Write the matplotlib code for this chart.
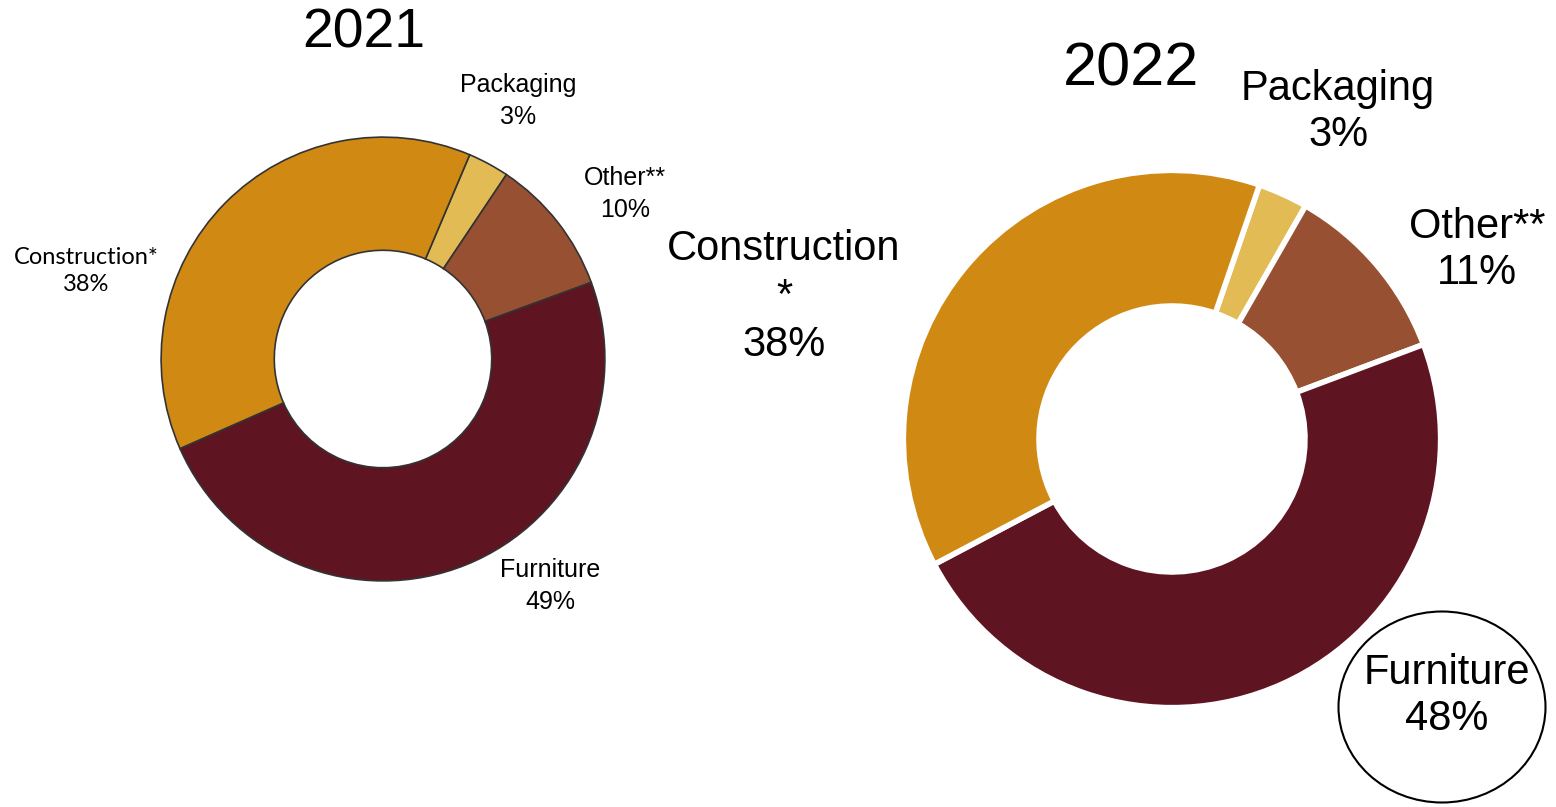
import matplotlib.pyplot as plt
from matplotlib.patches import Ellipse

# data
cats = ['Packaging', 'Other**', 'Furniture', 'Construction*']
vals_2021 = [3, 10, 49, 38]
vals_2022 = [3, 11, 48, 38]
colors = ['#E2BB55', '#985033', '#5E1421', '#D08A13']

W, H = 1556, 807
fig = plt.figure(figsize=(W / 100, H / 100), dpi=100)


def px_axes(cx, cy, r):
    # axes in pixel coords (top-left origin), square around the donut
    return fig.add_axes([(cx - r) / W, (H - cy - r) / H, 2 * r / W, 2 * r / H])


def ftext(x, y, s, **kw):
    fig.text(x / W, 1 - y / H, s, ha='center', va='center', **kw)


arial = 'Liberation Sans'
calibri = 'Lato'

# 2021 donut
ax1 = px_axes(383, 359, 223)
ax1.pie(vals_2021, colors=colors, startangle=67, counterclock=False, radius=1,
        wedgeprops=dict(width=0.51, edgecolor='#333333', linewidth=1.2))
ax1.set_xlim(-1.005, 1.005)
ax1.set_ylim(-1.005, 1.005)
ax1.axis('off')

ftext(364, 33, '2021', fontsize=40, family=arial)
ftext(518, 101, 'Packaging\n3%', fontsize=18, family=arial, linespacing=1.4)
ftext(625, 194, 'Other**\n10%', fontsize=18, family=arial, linespacing=1.4)
ftext(86, 271, 'Construction*\n38%', fontsize=17, family=calibri, linespacing=1.4)
ftext(550, 586, 'Furniture\n49%', fontsize=18, family=arial, linespacing=1.4)

# 2022 donut
ax2 = px_axes(1172, 439, 270)
ax2.pie(vals_2022, colors=colors, startangle=71, counterclock=False, radius=1,
        wedgeprops=dict(width=0.505, edgecolor='white', linewidth=4))
ax2.set_xlim(-1.005, 1.005)
ax2.set_ylim(-1.005, 1.005)
ax2.axis('off')

ftext(1131, 70, '2022', fontsize=44, family=arial)
ftext(1338, 112, 'Packaging\n3%', fontsize=30, family=arial, linespacing=1.2)
ftext(1477, 250, 'Other**\n11%', fontsize=30, family=arial, linespacing=1.2)
ftext(784, 297, 'Construction\n*\n38%', fontsize=30, family=arial, linespacing=1.25)
ftext(1447, 696, 'Furniture\n48%', fontsize=30, family=arial, linespacing=1.2)

# circle drawn round the 2022 furniture label
ell = Ellipse((1442 / W, 1 - 707 / H), 207 / W, 191 / H, transform=fig.transFigure,
              fill=False, edgecolor='black', linewidth=1.5)
fig.patches.append(ell)

fig.savefig('out.png', dpi=100)
